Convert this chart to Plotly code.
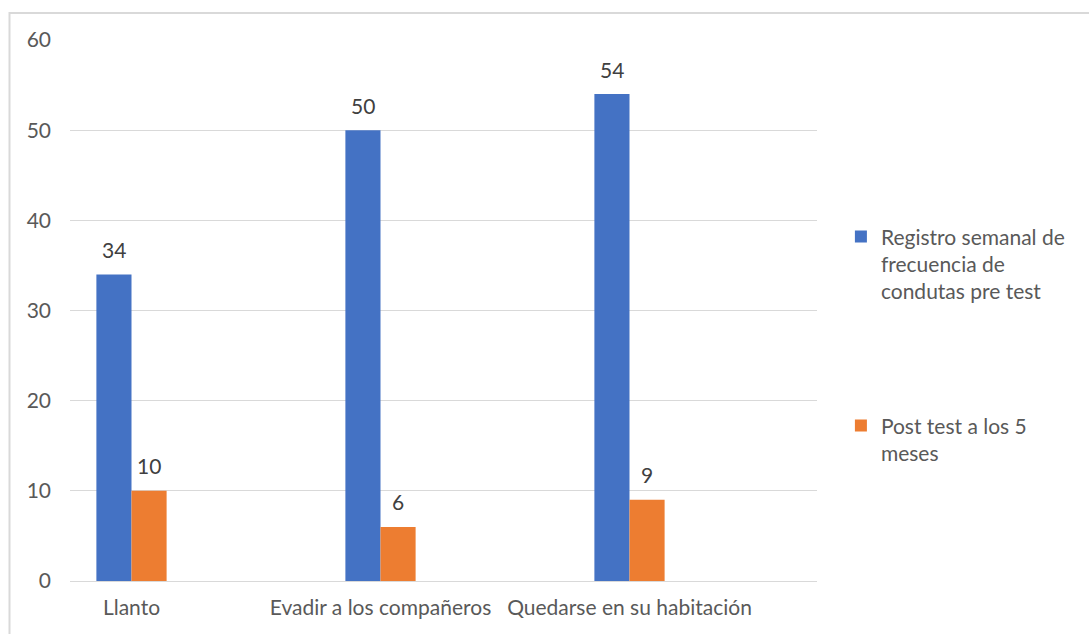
import plotly.graph_objects as go

categories = ["Llanto", "Evadir a los compañeros", "Quedarse en su habitación"]
pre_test = [34, 50, 54]
post_test = [10, 6, 9]
series_names = ["Registro semanal de<br>frecuencia de<br>condutas pre test", "Post test a los 5<br>meses"]
y_ticks = [0, 10, 20, 30, 40, 50, 60]

BLUE = "#4472C4"
ORANGE = "#ED7D31"
FONT = "Lato"
FS = 21
xs = list(range(len(categories)))
bw = 0.141

fig = go.Figure()
fig.add_trace(go.Bar(x=xs, y=pre_test, name=series_names[0], marker_color=BLUE,
                     width=bw, offset=-bw, marker_line_width=0, legendgroup="pre"))
fig.add_trace(go.Bar(x=xs, y=post_test, name=series_names[1], marker_color=ORANGE,
                     width=bw, offset=0, marker_line_width=0, legendgroup="post"))

annotations = []
for i, v in enumerate(pre_test):
    annotations.append(dict(x=xs[i] - bw / 2, y=v, text=str(v), showarrow=False,
                            yshift=25, font=dict(size=FS, color="#404040", family=FONT)))
for i, v in enumerate(post_test):
    annotations.append(dict(x=xs[i] + bw / 2, y=v, text=str(v), showarrow=False,
                            yshift=25, font=dict(size=FS, color="#404040", family=FONT)))

fig.update_layout(
    width=1089, height=634,
    margin=dict(l=70, r=272, t=40, b=53),
    paper_bgcolor="white", plot_bgcolor="white",
    barmode="overlay",
    showlegend=True,
    legend=dict(x=1.032, y=0.674, xanchor="left", yanchor="top", valign="top",
                traceorder="grouped",
                font=dict(size=FS, color="#595959", family=FONT),
                tracegroupgap=104, itemsizing="constant", bgcolor="rgba(0,0,0,0)"),
    annotations=annotations,
    xaxis=dict(range=[-0.247, 2.753], tickvals=xs, ticktext=categories,
               showgrid=False, zeroline=False, showline=False, ticks="",
               tickfont=dict(size=FS, color="#595959", family=FONT), ticklabelstandoff=12),
    yaxis=dict(range=[0, 60], tickvals=y_ticks, showgrid=True, gridcolor="#d9d9d9", gridwidth=1,
               zeroline=True, zerolinecolor="#d9d9d9", zerolinewidth=1, showline=False, ticks="",
               tickfont=dict(size=FS, color="#595959", family=FONT), ticklabelstandoff=18),
    shapes=[dict(type="rect", xref="paper", yref="paper", x0=-0.081, x1=1.372, y0=-0.109, y1=1.0499,
                 line=dict(color="#d9d9d9", width=2), fillcolor="rgba(0,0,0,0)", layer="below")],
)

fig.write_html("out.html")
